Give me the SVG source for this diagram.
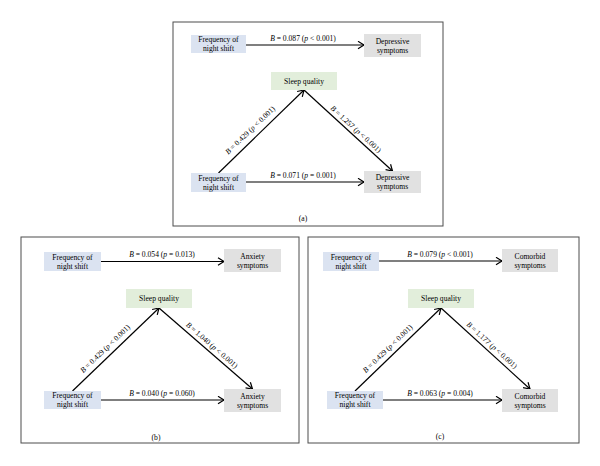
<svg xmlns="http://www.w3.org/2000/svg" width="600" height="466" viewBox="0 0 600 466">
<defs>
<marker id="ah" markerWidth="9" markerHeight="9" refX="7.5" refY="4.5" orient="auto" markerUnits="userSpaceOnUse">
<path d="M1.5,0.8 L7.5,4.5 L1.5,8.2" fill="none" stroke="#000" stroke-width="1.2"/>
</marker>
</defs>
<style>
text{font-family:"Liberation Serif","Times New Roman",serif;font-size:7.6px;fill:#000;text-anchor:middle}
.frame{fill:#fff;stroke:#4d4d4d;stroke-width:1}
.blue{fill:#dbe3f1}
.gray{fill:#e1e1e1}
.green{fill:#e2eedb}
.arr{stroke:#000;stroke-width:1.2;fill:none;marker-end:url(#ah)}
.i{font-style:italic}
</style>
<rect width="600" height="466" fill="#fff"/>
<rect class="frame" x="173" y="22" width="270" height="204"/>
<rect class="frame" x="21" y="237" width="278" height="206"/>
<rect class="frame" x="308" y="237" width="271" height="206"/>
<text x="303" y="220.5">(a)</text>
<text x="156" y="439.5">(b)</text>
<text x="440" y="439">(c)</text>

<g id="connectors">
<line class="arr" x1="246" y1="45" x2="364" y2="45"/>
<line class="arr" x1="246" y1="182" x2="364" y2="182"/>
<line class="arr" x1="218.5" y1="173" x2="304" y2="90"/>
<line class="arr" x1="304" y1="90" x2="392.5" y2="171"/>
<text x="303" y="41"><tspan class="i">B</tspan> = 0.087 (<tspan class="i">p</tspan> &lt; 0.001)</text>
<text x="303" y="178"><tspan class="i">B</tspan> = 0.071 (<tspan class="i">p</tspan> = 0.001)</text>
<text transform="translate(250,130) rotate(-43.8)" x="0" y="2.7"><tspan class="i">B</tspan> = 0.429 (<tspan class="i">p</tspan> &lt; 0.001)</text>
<text transform="translate(356,129) rotate(42.5)" x="0" y="2.7"><tspan class="i">B</tspan> = 1.257 (<tspan class="i">p</tspan> &lt; 0.001)</text>

<line class="arr" x1="101" y1="261.5" x2="224" y2="261.5"/>
<line class="arr" x1="101" y1="400" x2="224" y2="400"/>
<line class="arr" x1="72.5" y1="391" x2="159" y2="308"/>
<line class="arr" x1="159" y1="308" x2="252.5" y2="389"/>
<text x="162" y="257"><tspan class="i">B</tspan> = 0.054 (<tspan class="i">p</tspan> = 0.013)</text>
<text x="162" y="396"><tspan class="i">B</tspan> = 0.040 (<tspan class="i">p</tspan> = 0.060)</text>
<text transform="translate(105,348.5) rotate(-43.8)" x="0" y="2.7"><tspan class="i">B</tspan> = 0.429 (<tspan class="i">p</tspan> &lt; 0.001)</text>
<text transform="translate(212,345) rotate(40.9)" x="0" y="2.7"><tspan class="i">B</tspan> = 1.040 (<tspan class="i">p</tspan> &lt; 0.001)</text>

<line class="arr" x1="379" y1="261" x2="502" y2="261"/>
<line class="arr" x1="383" y1="400" x2="502" y2="400"/>
<line class="arr" x1="355" y1="391" x2="441" y2="308"/>
<line class="arr" x1="441" y1="308" x2="530" y2="389"/>
<text x="440" y="256.5"><tspan class="i">B</tspan> = 0.079 (<tspan class="i">p</tspan> &lt; 0.001)</text>
<text x="440" y="396"><tspan class="i">B</tspan> = 0.063 (<tspan class="i">p</tspan> = 0.004)</text>
<text transform="translate(387.5,348.5) rotate(-44)" x="0" y="2.7"><tspan class="i">B</tspan> = 0.429 (<tspan class="i">p</tspan> &lt; 0.001)</text>
<text transform="translate(492,345) rotate(42.3)" x="0" y="2.7"><tspan class="i">B</tspan> = 1.177 (<tspan class="i">p</tspan> &lt; 0.001)</text>
</g>

<g id="a-freq-top"><rect class="blue" x="191" y="35" width="55" height="18"/><text x="218.5" y="42.2">Frequency of<tspan x="218.5" dy="9">night shift</tspan></text></g>
<g id="a-dep-top"><rect class="gray" x="364" y="34" width="57" height="23"/><text x="392.5" y="43.7">Depressive<tspan x="392.5" dy="9">symptoms</tspan></text></g>
<g id="a-sleep"><rect class="green" x="271" y="72" width="66" height="18"/><text x="304" y="83.7">Sleep quality</text></g>
<g id="a-freq-bot"><rect class="blue" x="191" y="173" width="55" height="19"/><text x="218.5" y="180.7">Frequency of<tspan x="218.5" dy="9">night shift</tspan></text></g>
<g id="a-dep-bot"><rect class="gray" x="364" y="171" width="57" height="22"/><text x="392.5" y="180.2">Depressive<tspan x="392.5" dy="9">symptoms</tspan></text></g>

<g id="b-freq-top"><rect class="blue" x="44" y="252" width="57" height="19"/><text x="72.5" y="259.7">Frequency of<tspan x="72.5" dy="9">night shift</tspan></text></g>
<g id="b-anx-top"><rect class="gray" x="224" y="249" width="57" height="23"/><text x="252.5" y="258.7">Anxiety<tspan x="252.5" dy="9">symptoms</tspan></text></g>
<g id="b-sleep"><rect class="green" x="126" y="289" width="66" height="19"/><text x="159" y="301.2">Sleep quality</text></g>
<g id="b-freq-bot"><rect class="blue" x="44" y="391" width="57" height="18"/><text x="72.5" y="398.2">Frequency of<tspan x="72.5" dy="9">night shift</tspan></text></g>
<g id="b-anx-bot"><rect class="gray" x="224" y="389" width="57" height="23"/><text x="252.5" y="398.7">Anxiety<tspan x="252.5" dy="9">symptoms</tspan></text></g>

<g id="c-freq-top"><rect class="blue" x="323" y="252" width="56" height="19"/><text x="351" y="259.7">Frequency of<tspan x="351" dy="9">night shift</tspan></text></g>
<g id="c-com-top"><rect class="gray" x="502" y="249" width="56" height="23"/><text x="530" y="258.7">Comorbid<tspan x="530" dy="9">symptoms</tspan></text></g>
<g id="c-sleep"><rect class="green" x="408" y="289" width="66" height="19"/><text x="441" y="301.2">Sleep quality</text></g>
<g id="c-freq-bot"><rect class="blue" x="327" y="391" width="56" height="18"/><text x="355" y="398.2">Frequency of<tspan x="355" dy="9">night shift</tspan></text></g>
<g id="c-com-bot"><rect class="gray" x="502" y="389" width="56" height="23"/><text x="530" y="398.7">Comorbid<tspan x="530" dy="9">symptoms</tspan></text></g>
</svg>
